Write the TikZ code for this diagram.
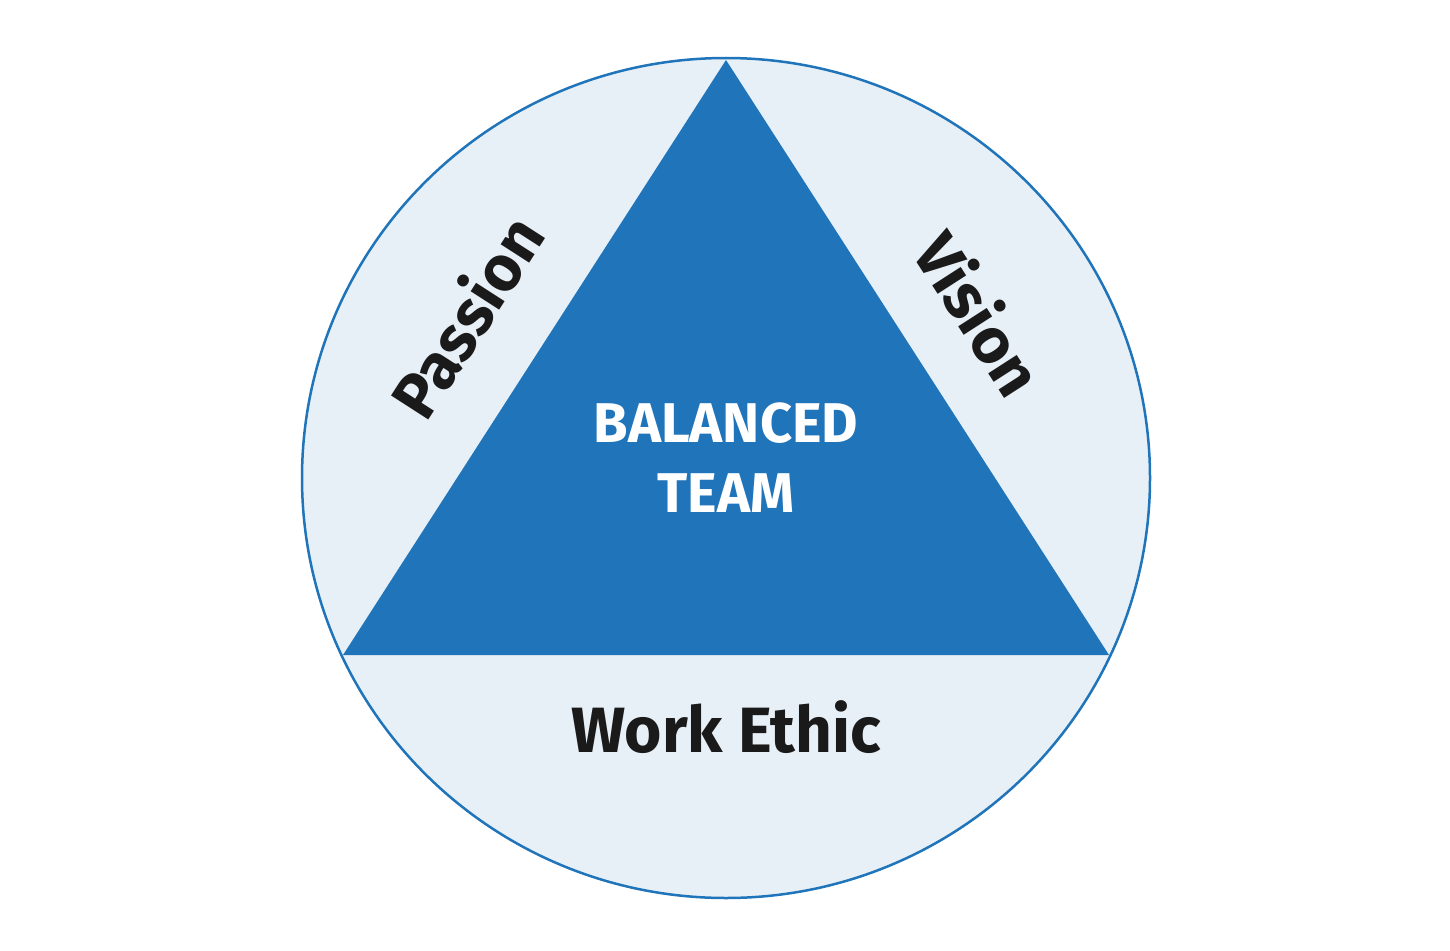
\documentclass[tikz,border=0pt]{standalone}
\usepackage{fontspec}
\setmainfont{Fira Sans}
\definecolor{tblue}{HTML}{1F74BA}
\definecolor{cfill}{HTML}{E8F0F7}
\definecolor{ink}{HTML}{1A1A1A}
\begin{document}
\begin{tikzpicture}[x=1pt,y=-1pt,
  side/.style={font=\fontsize{64}{66}\selectfont\bfseries, text=ink},
  inner/.style={font=\fontsize{56}{70}\selectfont\bfseries, text=white, align=center}]
\useasboundingbox (0,0) rectangle (1450,950);
\draw[tblue, line width=2.5pt, fill=cfill] (726,478) ellipse [x radius=424, y radius=420];
\coordinate (A) at (726,60);
\coordinate (B) at (343,655);
\coordinate (C) at (1109,655);
\fill[tblue] (A) -- (B) -- (C) -- cycle;
\node[inner] (bt) at (726,458) {BALANCED\\TEAM};
\node[side, rotate=57.2] (p) at (466,316) {Passion};
\node[side, rotate=-57.2] (v) at (980,313) {Vision};
\node[side] (w) at (726,727) {Work Ethic};
\end{tikzpicture}
\end{document}
